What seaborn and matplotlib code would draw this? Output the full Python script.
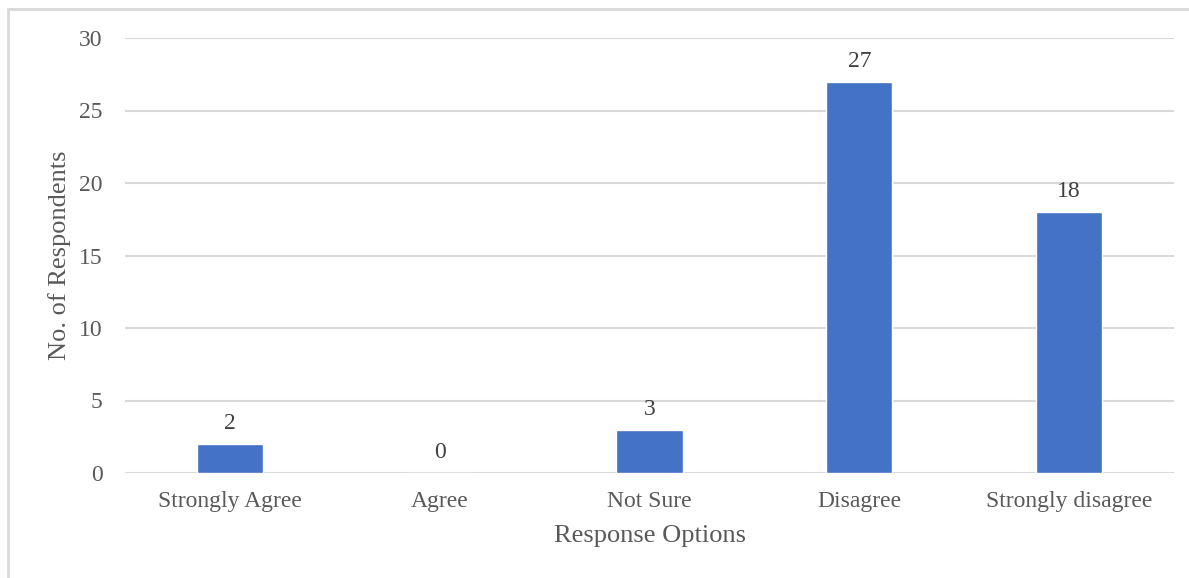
import matplotlib
matplotlib.use("Agg")
import matplotlib.pyplot as plt
import seaborn as sns
import pandas as pd
from matplotlib.patches import Rectangle

categories = ["Strongly Agree", "Agree", "Not Sure", "Disagree", "Strongly disagree"]
respondents = [2, 0, 3, 27, 18]
y_ticks = [0, 5, 10, 15, 20, 25, 30]

sns.set_theme(style="white")
plt.rcParams["font.family"] = ["Liberation Serif", "DejaVu Serif"]

TEXT = "#595959"
GRID = "#D9D9D9"
BAR = "#4472C4"

df = pd.DataFrame({"Response": categories, "Count": respondents})

fig = plt.figure(figsize=(11.89, 5.78), dpi=100)
ax = fig.add_axes([125 / 1189, 105 / 578, 1049 / 1189, 435 / 578])

sns.barplot(data=df, x="Response", y="Count", color=BAR, width=0.315,
            saturation=1, ax=ax, zorder=3)

ax.set_xlim(-0.5, len(categories) - 0.5)
ax.set_ylim(0, 30)
ax.set_yticks(y_ticks)
ax.yaxis.grid(True, color=GRID, linewidth=1.5, zorder=0)
ax.set_axisbelow(True)
for s in ax.spines.values():
    s.set_visible(False)
ax.tick_params(axis="both", length=0, labelsize=17, labelcolor=TEXT)
ax.tick_params(axis="x", pad=13)
ax.tick_params(axis="y", pad=16)

ax.set_xlabel("Response Options", fontsize=19, color=TEXT, labelpad=9)
ax.set_ylabel("No. of Respondents", fontsize=19, color=TEXT, labelpad=6)

for i, v in enumerate(respondents):
    ax.annotate(str(v), (i, v), xytext=(0, 7), textcoords="offset points",
                ha="center", va="bottom", fontsize=17, color="#404040")

# light frame around the chart area
fig.patches.append(Rectangle((8 / 1189, -0.1), 1.2, (578 - 9) / 578 + 0.1,
                             transform=fig.transFigure, fill=False,
                             edgecolor=GRID, linewidth=2))

fig.savefig("out.png", dpi=100)
